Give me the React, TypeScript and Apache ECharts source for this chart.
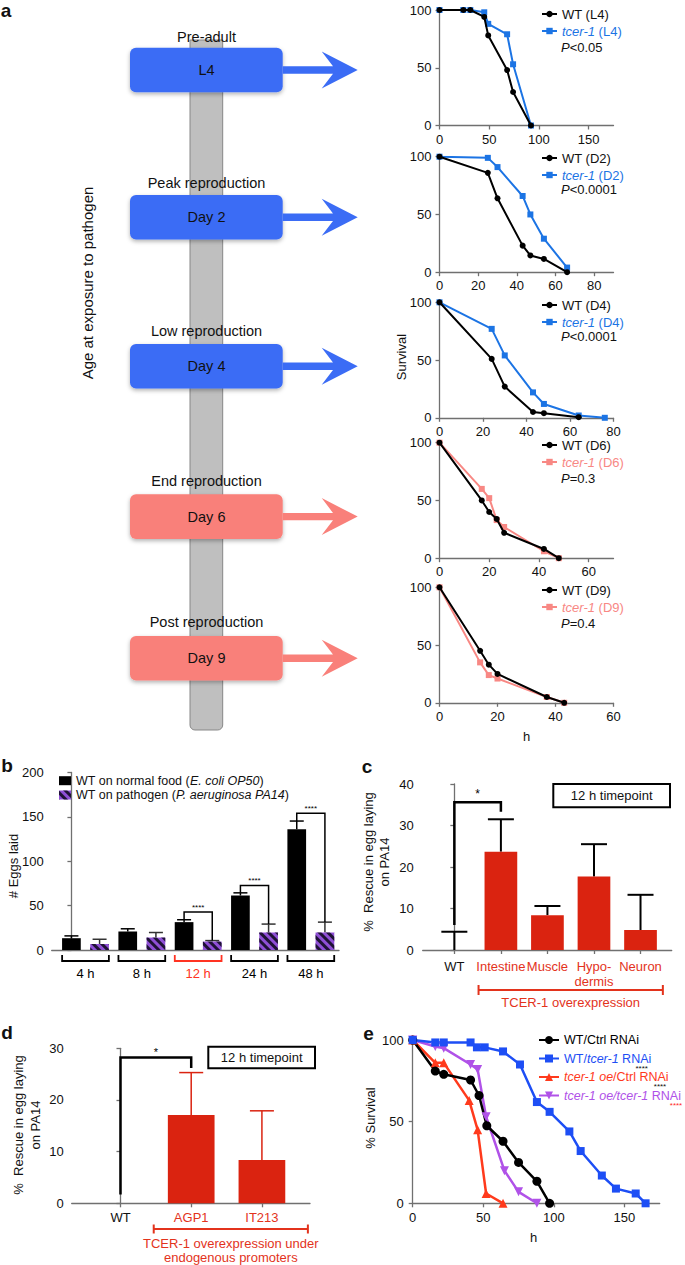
import React, { useEffect, useRef } from 'react';
import * as echarts from 'echarts';

const FONT = '"Liberation Sans", Arial, Helvetica, sans-serif';

// ---------- Panel a: survival curves (x = h, y = % survival)
const aKeys = ['L4', 'D2', 'D4', 'D6', 'D9'];
const aStages = ['Pre-adult', 'Peak reproduction', 'Low reproduction', 'End reproduction', 'Post reproduction'];
const aAges = ['L4', 'Day 2', 'Day 4', 'Day 6', 'Day 9'];
const aPvalues = ['<0.05', '<0.0001', '<0.0001', '=0.3', '=0.4'];
const aXMax = [175, 90, 80, 70, 60];
const aXTicks = [[0, 50, 100, 150], [0, 20, 40, 60, 80], [0, 20, 40, 60, 80], [0, 20, 40, 60], [0, 20, 40, 60]];
const aYTicks = [0, 50, 100];
const wtL4 = [[0, 100], [24, 100], [31, 100], [45, 94], [49, 78], [68, 48], [74, 29], [92, 0]];
const tcL4 = [[0, 100], [24, 100], [31, 100], [45, 98], [49, 88], [68, 79], [74, 53], [92, 0]];
const wtD2 = [[0, 100], [25, 86], [30, 64], [43, 23], [47, 14.5], [54, 11.5], [66, 0]];
const tcD2 = [[0, 100], [25, 99], [30, 91], [43, 66], [47, 50], [54, 29], [66, 4]];
const wtD4 = [[0, 100], [24, 51], [30, 27], [43, 5], [48, 4], [64, 0.5]];
const tcD4 = [[0, 100], [24, 77], [30, 54], [43, 22], [48, 12], [64, 2], [76, 0]];
const wtD6 = [[0, 100], [17, 50], [20, 40], [23, 34], [26, 22], [42, 8], [48, 0]];
const tcD6 = [[0, 100], [17, 60], [20, 52], [23, 33], [26, 27], [42, 6], [48, 0]];
const wtD9 = [[0, 100], [14, 45], [17, 33], [20, 25], [37, 5], [43, 0]];
const tcD9 = [[0, 100], [14, 35], [17, 24], [20, 21], [37, 5], [43, 0]];
const aWT = [wtL4, wtD2, wtD4, wtD6, wtD9];
const aTC = [tcL4, tcD2, tcD4, tcD6, tcD9];

// ---------- Panel b: eggs laid
const bGroups = ['4 h', '8 h', '12 h', '24 h', '48 h'];
const bFood = [13.3, 20.8, 31.4, 61.4, 136];
const bFoodErr = [15.9, 23.9, 34.1, 64.4, 145.3];
const bPath = [6.8, 14, 9.5, 19.7, 19.7];
const bPathErr = [12.1, 19.7, 10.6, 29.2, 31.4];
const bSigGroups = [2, 3, 4];
const bSigTop = [42.8, 72.7, 154];
const bSigStars = ['****', '****', '****'];
const bYTicks = [0, 50, 100, 150, 200];

// ---------- Panel c
const cCats = ['WT', 'Intestine', 'Muscle', 'Hypo-\ndermis', 'Neuron'];
const cVals = [0, 23.7, 8.4, 17.7, 4.8];
const cErr = [4.4, 31.5, 10.6, 25.5, 13.3];
const cSig = [[0, 1, 6, 35.6, 33.3]];
const cStars = ['*'];
const cYTicks = [0, 10, 20, 30, 40];

// ---------- Panel d
const dCats = ['WT', 'AGP1', 'IT213'];
const dVals = [0, 17.1, 8.4];
const dErr = [[1, 17.1, 25.3], [2, 8.4, 17.9]];
const dSig = [[0, 1, 1.7, 28.2, 26.2]];
const dStars = ['*'];
const dYTicks = [0, 10, 20, 30];

// ---------- Panel e
const eNames = ['WT/Ctrl RNAi', 'WT/tcer-1 RNAi', 'tcer-1 oe/Ctrl RNAi', 'tcer-1 oe/tcer-1 RNAi'];
const eWTCtrl = [[0, 100], [16, 81], [22, 79], [41, 75.5], [47, 66], [52.5, 47.5], [64, 38], [75, 25], [88, 13.5], [97, 0]];
const eWTTcer = [[0, 100], [16, 98.5], [22, 98.5], [41, 98.5], [45.5, 95.5], [51, 95.5], [64, 93], [76, 85], [88, 62], [97, 56], [111, 44], [119, 32], [134, 17], [144, 9], [158, 6], [165, 0]];
const eOeCtrl = [[0, 100], [16, 86], [22, 86], [40, 63], [46, 45], [52, 6], [64, 0]];
const eOeTcer = [[0, 100], [16, 96], [22, 95], [41, 85], [46, 82], [52, 53], [65, 20], [75, 7], [88, 0]];
const eStars = ['****', '****', '****'];
const eXTicks = [0, 50, 100, 150];
const eYTicks = [0, 50, 100];

// ---------- styles
const AX = '#707070';
const BLUE_A = '#1c74e4';
const PINK_A = '#f88884';
const BAR_RED = '#da2310';
const TXT_RED = '#e3331c';
const PURPLE_B = '#8f4fd6';
const E_COL = ['#000000', '#1d4ef5', '#ff3a1c', '#b052e8'];

function valAxis(gridIndex: number, min: number, max: number, ticks: number[] | null, margin: number, extra: any = {}) {
  return {
    type: 'value', gridIndex, min, max,
    axisLine: { show: true, lineStyle: { color: AX, width: 1.3 } },
    axisTick: ticks ? { show: true, length: 4, customValues: ticks, lineStyle: { color: AX, width: 1.3 } } : { show: false },
    axisLabel: ticks ? { show: true, customValues: ticks, fontSize: 13, color: '#111', fontFamily: FONT, margin } : { show: false },
    splitLine: { show: false },
    ...extra,
  };
}

function T(text: string, x: number, y: number, o: any = {}) {
  return {
    type: 'text', x, y, rotation: o.rot || 0, z: 10,
    style: {
      text, fill: o.color || '#111', fontSize: o.size || 13, fontFamily: FONT,
      fontWeight: o.weight || 'normal', fontStyle: o.style || 'normal',
      align: o.align || 'center', textAlign: o.align || 'center',
      verticalAlign: 'middle', textVerticalAlign: 'middle',
      lineHeight: o.lh, rich: o.rich,
    },
  };
}

function errSeries(xi: number, data: number[][], capW: number, color: string, lw = 1.5) {
  return {
    type: 'custom', xAxisIndex: xi, yAxisIndex: xi, data, z: 1, silent: true,
    encode: { x: 0, y: [1, 2] },
    renderItem: (params: any, api: any) => {
      const x = api.value(0), v = api.value(1), t = api.value(2);
      const p0 = api.coord([x, v]);
      const p1 = api.coord([x, t]);
      return {
        type: 'group', children: [
          { type: 'line', shape: { x1: p0[0], y1: p0[1], x2: p1[0], y2: p1[1] }, style: { stroke: color, lineWidth: lw } },
          { type: 'line', shape: { x1: p1[0] - capW / 2, y1: p1[1], x2: p1[0] + capW / 2, y2: p1[1] }, style: { stroke: color, lineWidth: lw } },
        ],
      };
    },
  };
}

function sigSeries(xi: number, data: number[][], stars: string[], lw: number, starSize: number, starGap: number) {
  return {
    type: 'custom', xAxisIndex: xi, yAxisIndex: xi, data, z: 3, silent: true, clip: false,
    encode: { x: [0, 1], y: [2, 3, 4] },
    renderItem: (params: any, api: any) => {
      const x1 = api.value(0), x2 = api.value(1);
      const a = api.coord([x1, api.value(2)]);
      const b = api.coord([x1, api.value(3)]);
      const c = api.coord([x2, api.value(3)]);
      const d = api.coord([x2, api.value(4)]);
      return {
        type: 'group', children: [
          { type: 'polyline', shape: { points: [a, b, c, d] }, style: { stroke: '#000', lineWidth: lw, fill: null } },
          {
            type: 'text', x: (b[0] + c[0]) / 2, y: b[1] - starGap,
            style: { text: stars[params.dataIndex], fill: '#000', fontSize: starSize, fontFamily: FONT, align: 'center', textAlign: 'center', verticalAlign: 'middle', textVerticalAlign: 'middle' },
          },
        ],
      };
    },
  };
}

function buildOption() {
  const grids: any[] = [];
  const xAxes: any[] = [];
  const yAxes: any[] = [];
  const series: any[] = [];
  const legends: any[] = [];
  const graphics: any[] = [];

  // ---- Panel a survival plots
  const aGridTop = [10, 156.7, 302.3, 442.7, 587.3];
  const aLegTop = [6, 150, 297, 437, 582];
  const aPY = [47, 189, 336, 478, 623];
  for (let i = 0; i < 5; i++) {
    const k = aKeys[i];
    const col = i < 3 ? BLUE_A : PINK_A;
    grids.push({ left: 439.5, top: aGridTop[i], width: 174, height: 115.5, outerBoundsMode: 'none' });
    xAxes.push(valAxis(i, 0, aXMax[i], aXTicks[i], 7));
    yAxes.push(valAxis(i, 0, 100, aYTicks, 8));
    series.push({
      type: 'line', name: `tcer-1 (${k})`, xAxisIndex: i, yAxisIndex: i, data: aTC[i],
      symbol: 'rect', symbolSize: 6, lineStyle: { width: 2, color: col }, itemStyle: { color: col }, z: 2,
    });
    series.push({
      type: 'line', name: `WT (${k})`, xAxisIndex: i, yAxisIndex: i, data: aWT[i],
      symbol: 'circle', symbolSize: 6, lineStyle: { width: 2, color: '#000' }, itemStyle: { color: '#000' }, z: 3,
    });
    legends.push({
      orient: 'vertical', left: 541, top: aLegTop[i], padding: 0, itemWidth: 15, itemHeight: 8, itemGap: 1,
      selectedMode: false,
      data: [{ name: `WT (${k})` }, { name: `tcer-1 (${k})` }],
      formatter: (name: string) => name.startsWith('tcer') ? `{ci|tcer-1}{cn|${name.slice(6)}}` : `{k|${name}}`,
      textStyle: {
        fontSize: 13, fontFamily: FONT, color: '#111', lineHeight: 16,
        rich: {
          k: { color: '#111', fontSize: 13, fontFamily: FONT, lineHeight: 16 },
          ci: { color: col, fontStyle: 'italic', fontSize: 13, fontFamily: FONT, lineHeight: 16 },
          cn: { color: col, fontSize: 13, fontFamily: FONT, lineHeight: 16 },
        },
      },
    });
    graphics.push(T(`{i|P}{n|${aPvalues[i]}}`, 561, aPY[i], {
      align: 'left',
      rich: {
        i: { fontStyle: 'italic', fontSize: 13, fontFamily: FONT, fill: '#111', color: '#111' },
        n: { fontSize: 13, fontFamily: FONT, fill: '#111', color: '#111' },
      },
    }));
  }
  graphics.push(T('Survival', 401, 357, { rot: Math.PI / 2 }));
  graphics.push(T('h', 526.5, 736));

  // ---- Panel a diagram
  graphics.push({
    type: 'rect', shape: { x: 190, y: 40, width: 32.7, height: 690, r: [0, 0, 5, 5] },
    style: { fill: '#bfbfbf', stroke: '#878787', lineWidth: 1 }, z: 1,
  });
  const boxTop = [47.7, 195, 344, 494.3, 636];
  const labelY = [36.7, 183.3, 331, 480.7, 622.3];
  for (let i = 0; i < 5; i++) {
    const col = i < 3 ? '#3b6cf5' : '#f9807a';
    const cy = boxTop[i] + 22.3;
    graphics.push(T(aStages[i], 206.5, labelY[i], { size: 14.5 }));
    graphics.push({
      type: 'rect', shape: { x: 130, y: boxTop[i], width: 152.7, height: 44.6, r: 6 }, z: 5,
      style: { fill: col, shadowBlur: 4, shadowOffsetY: 2, shadowColor: 'rgba(0,0,0,0.3)' },
    });
    graphics.push(T(aAges[i], 206.5, cy, { size: 14.5 }));
    graphics.push({
      type: 'polygon', z: 5,
      shape: {
        points: [[282.7, cy - 3.7], [333, cy - 3.7], [321.7, cy - 18.5], [357.7, cy], [321.7, cy + 18.5], [333, cy + 3.7], [282.7, cy + 3.7]],
      },
      style: { fill: col },
    });
  }
  graphics.push(T('Age at exposure to pathogen', 87, 283, { rot: Math.PI / 2, size: 15 }));

  // ---- Panel b
  const gb = 5;
  grids.push({ left: 51.7, top: 772.5, width: 287.3, height: 177.5, outerBoundsMode: 'none' });
  xAxes.push(valAxis(gb, -0.7, 9.5, null, 0));
  yAxes.push(valAxis(gb, 0, 200, bYTicks, 8));
  const foodName = 'WT on normal food (E. coli OP50)';
  const pathName = 'WT on pathogen (P. aeruginosa PA14)';
  series.push({
    type: 'bar', name: foodName, xAxisIndex: gb, yAxisIndex: gb, barWidth: 18.7, barGap: '-100%',
    data: bFood.map((v, g) => [2 * g, v]), itemStyle: { color: '#000' }, z: 2,
  });
  series.push({
    type: 'bar', name: pathName, xAxisIndex: gb, yAxisIndex: gb, barWidth: 18.7, barGap: '-100%',
    data: bPath.map((v, g) => [2 * g + 1, v]),
    itemStyle: {
      color: PURPLE_B,
      decal: { symbol: 'rect', symbolSize: 1, color: 'rgba(25,15,45,0.95)', dashArrayX: [1, 0], dashArrayY: [3, 3], rotation: Math.PI / 4 },
    },
    z: 2,
  });
  series.push(errSeries(gb, bFood.map((v, g) => [2 * g, v, bFoodErr[g]]), 14, '#000'));
  series.push(errSeries(gb, bPath.map((v, g) => [2 * g + 1, v, bPathErr[g]]), 14, '#333'));
  series.push(sigSeries(gb, bSigGroups.map((g, j) => [2 * g, 2 * g + 1, bFoodErr[g], bSigTop[j], bPathErr[g]]), bSigStars, 1.5, 8, 5));
  series.push({
    type: 'custom', xAxisIndex: gb, yAxisIndex: gb, data: bGroups.map((_, g) => [2 * g, 0]), clip: false, silent: true,
    encode: { x: 0, y: 1 },
    renderItem: (params: any, api: any) => {
      const s = api.value(0);
      const L = api.coord([s - 0.33, 0]);
      const R = api.coord([s + 1.33, 0]);
      const col = bGroups[params.dataIndex] === '12 h' ? '#ff3322' : '#000';
      const y0 = L[1] + 5, y1 = L[1] + 11;
      return {
        type: 'group', children: [
          { type: 'polyline', shape: { points: [[L[0], y0], [L[0], y1], [R[0], y1], [R[0], y0]] }, style: { stroke: col, lineWidth: 1.8, fill: null } },
          { type: 'text', x: (L[0] + R[0]) / 2, y: L[1] + 23, style: { text: bGroups[params.dataIndex], fill: col, fontSize: 13, fontFamily: FONT, align: 'center', textAlign: 'center', verticalAlign: 'middle', textVerticalAlign: 'middle' } },
        ],
      };
    },
  });
  legends.push({
    orient: 'vertical', left: 59, top: 773.7, padding: 0, itemWidth: 12, itemHeight: 9, itemGap: 0.3, icon: 'rect',
    selectedMode: false,
    data: [foodName, pathName],
    formatter: (name: string) => name === foodName ? '{n|WT on normal food (}{i|E. coli OP50}{n|)}' : '{n|WT on pathogen (}{i|P. aeruginosa PA14}{n|)}',
    textStyle: {
      fontSize: 12.5, fontFamily: FONT, color: '#111', lineHeight: 14,
      rich: {
        n: { fontSize: 12.5, fontFamily: FONT, color: '#111', lineHeight: 14 },
        i: { fontSize: 12.5, fontFamily: FONT, color: '#111', fontStyle: 'italic', lineHeight: 14 },
      },
    },
  });
  graphics.push(T('# Eggs laid', 13, 866, { rot: Math.PI / 2 }));

  // ---- Panel c
  const gc = 6;
  grids.push({ left: 422.7, top: 784, width: 249, height: 166, outerBoundsMode: 'none' });
  xAxes.push(valAxis(gc, -0.68, 4.67, [0, 1, 2, 3, 4], 9, {
    axisLabel: {
      show: true, customValues: [0, 1, 2, 3, 4], margin: 9, fontSize: 13, fontFamily: FONT, lineHeight: 15,
      formatter: (v: number) => v === 0 ? `{k|${cCats[0]}}` : cCats[v].split('\n').map((s) => `{r|${s}}`).join('\n'),
      rich: {
        k: { color: '#111', fontSize: 13, fontFamily: FONT, lineHeight: 15 },
        r: { color: TXT_RED, fontSize: 13, fontFamily: FONT, lineHeight: 15 },
      },
    },
  }));
  yAxes.push(valAxis(gc, 0, 40, cYTicks, 9));
  series.push({
    type: 'bar', name: 'c-bars', xAxisIndex: gc, yAxisIndex: gc, barWidth: 32.7,
    data: cVals.map((v, i) => [i, v]), itemStyle: { color: BAR_RED }, z: 2,
  });
  series.push(errSeries(gc, cVals.map((v, i) => [i, v, cErr[i]]), 26, '#000', 2));
  series.push(sigSeries(gc, cSig, cStars, 2.5, 12, 8));
  series.push({
    type: 'custom', xAxisIndex: gc, yAxisIndex: gc, data: [[1, 4]], clip: false, silent: true,
    encode: { x: [0, 1] },
    renderItem: (params: any, api: any) => {
      const L = api.coord([api.value(0) - 0.48, 0]);
      const R = api.coord([api.value(1) + 0.48, 0]);
      const y = L[1] + 40;
      return {
        type: 'group', children: [
          { type: 'line', shape: { x1: L[0], y1: y, x2: R[0], y2: y }, style: { stroke: TXT_RED, lineWidth: 2 } },
          { type: 'line', shape: { x1: L[0], y1: y - 5, x2: L[0], y2: y + 5 }, style: { stroke: TXT_RED, lineWidth: 2 } },
          { type: 'line', shape: { x1: R[0], y1: y - 5, x2: R[0], y2: y + 5 }, style: { stroke: TXT_RED, lineWidth: 2 } },
          { type: 'text', x: (L[0] + R[0]) / 2, y: L[1] + 52, style: { text: 'TCER-1 overexpression', fill: TXT_RED, fontSize: 13, fontFamily: FONT, align: 'center', textAlign: 'center', verticalAlign: 'middle', textVerticalAlign: 'middle' } },
        ],
      };
    },
  });
  graphics.push({ type: 'rect', shape: { x: 553.3, y: 784, width: 116.7, height: 23.3 }, style: { fill: '#fff', stroke: '#000', lineWidth: 2 }, z: 5 });
  graphics.push(T('12 h timepoint', 611.7, 795.7));
  graphics.push(T('%  Rescue in egg laying\non PA14', 376, 862, { rot: Math.PI / 2, lh: 16 }));

  // ---- Panel d
  const gd = 7;
  grids.push({ left: 71.7, top: 1048.3, width: 238.3, height: 155, outerBoundsMode: 'none' });
  xAxes.push(valAxis(gd, -0.69, 2.68, [0, 1, 2], 8, {
    axisLabel: {
      show: true, customValues: [0, 1, 2], margin: 8, fontSize: 13, fontFamily: FONT,
      formatter: (v: number) => v === 0 ? `{k|${dCats[0]}}` : `{r|${dCats[v]}}`,
      rich: {
        k: { color: '#111', fontSize: 13, fontFamily: FONT },
        r: { color: TXT_RED, fontSize: 13, fontFamily: FONT },
      },
    },
  }));
  yAxes.push(valAxis(gd, 0, 30, dYTicks, 8));
  series.push({
    type: 'bar', name: 'd-bars', xAxisIndex: gd, yAxisIndex: gd, barWidth: 46.7,
    data: dVals.map((v, i) => [i, v]), itemStyle: { color: BAR_RED }, z: 2,
  });
  series.push(errSeries(gd, dErr, 24, BAR_RED, 1.5));
  series.push(sigSeries(gd, dSig, dStars, 2.5, 11, 6));
  series.push({
    type: 'custom', xAxisIndex: gd, yAxisIndex: gd, data: [[0.47, 2.65]], clip: false, silent: true,
    encode: { x: [0, 1] },
    renderItem: (params: any, api: any) => {
      const L = api.coord([api.value(0), 0]);
      const R = api.coord([api.value(1), 0]);
      const y = L[1] + 25.7;
      return {
        type: 'group', children: [
          { type: 'line', shape: { x1: L[0], y1: y, x2: R[0], y2: y }, style: { stroke: TXT_RED, lineWidth: 2 } },
          { type: 'line', shape: { x1: L[0], y1: y - 4.5, x2: L[0], y2: y + 4.5 }, style: { stroke: TXT_RED, lineWidth: 2 } },
          { type: 'line', shape: { x1: R[0], y1: y - 4.5, x2: R[0], y2: y + 4.5 }, style: { stroke: TXT_RED, lineWidth: 2 } },
          { type: 'text', x: (L[0] + R[0]) / 2, y: L[1] + 47, style: { text: 'TCER-1 overexpression under\nendogenous promoters', lineHeight: 14, fill: TXT_RED, fontSize: 13, fontFamily: FONT, align: 'center', textAlign: 'center', verticalAlign: 'middle', textVerticalAlign: 'middle' } },
        ],
      };
    },
  });
  graphics.push({ type: 'rect', shape: { x: 208.3, y: 1046.7, width: 106.7, height: 21.6 }, style: { fill: '#fff', stroke: '#000', lineWidth: 2 }, z: 5 });
  graphics.push(T('12 h timepoint', 261.7, 1057.5));
  graphics.push(T('%  Rescue in egg laying\non PA14', 26.5, 1125, { rot: Math.PI / 2, lh: 17 }));

  // ---- Panel e
  const ge = 8;
  grids.push({ left: 412.7, top: 1040, width: 247, height: 163.3, outerBoundsMode: 'none' });
  xAxes.push(valAxis(ge, 0, 175, eXTicks, 8));
  yAxes.push(valAxis(ge, 0, 100, eYTicks, 9));
  const eData = [eWTCtrl, eWTTcer, eOeCtrl, eOeTcer];
  const eSym = ['circle', 'rect', 'triangle', 'triangle'];
  const eSize = [9, 8, 9, 9];
  const eRot = [0, 0, 0, 180];
  const eOrder = [2, 3, 0, 1];
  eOrder.forEach((i) => {
    series.push({
      type: 'line', name: eNames[i], xAxisIndex: ge, yAxisIndex: ge, data: eData[i],
      symbol: eSym[i], symbolSize: eSize[i], symbolRotate: eRot[i],
      lineStyle: { width: 2.5, color: E_COL[i] }, itemStyle: { color: E_COL[i] }, z: 3,
    });
  });
  legends.push({
    orient: 'vertical', left: 538, top: 1033.5, padding: 0, itemWidth: 20, itemHeight: 10, itemGap: 5.5,
    selectedMode: false,
    data: eNames,
    formatter: (name: string) => {
      if (name === eNames[0]) return '{k|WT/Ctrl RNAi}';
      if (name === eNames[1]) return '{bn|WT/}{bi|tcer-1}{bn| RNAi}';
      if (name === eNames[2]) return '{ri|tcer-1 oe}{rn|/Ctrl RNAi}';
      return '{pi|tcer-1 oe/tcer-1}{pn| RNAi}';
    },
    textStyle: {
      fontSize: 12.5, fontFamily: FONT, color: '#111', lineHeight: 13,
      rich: {
        k: { color: '#000', fontSize: 12.5, fontFamily: FONT, lineHeight: 13 },
        bn: { color: E_COL[1], fontSize: 12.5, fontFamily: FONT, lineHeight: 13 },
        bi: { color: E_COL[1], fontSize: 12.5, fontFamily: FONT, fontStyle: 'italic', lineHeight: 13 },
        rn: { color: E_COL[2], fontSize: 12.5, fontFamily: FONT, lineHeight: 13 },
        ri: { color: E_COL[2], fontSize: 12.5, fontFamily: FONT, fontStyle: 'italic', lineHeight: 13 },
        pn: { color: E_COL[3], fontSize: 12.5, fontFamily: FONT, lineHeight: 13 },
        pi: { color: E_COL[3], fontSize: 12.5, fontFamily: FONT, fontStyle: 'italic', lineHeight: 13 },
      },
    },
  });
  graphics.push(T(eStars[0], 641.7, 1068, { size: 8, lh: 5 }));
  graphics.push(T(eStars[1], 660, 1086.5, { size: 8, lh: 5 }));
  graphics.push(T(eStars[2], 676, 1105.5, { size: 8, lh: 5, color: '#ff2a2a' }));
  graphics.push(T('% Survival', 370, 1118, { rot: Math.PI / 2 }));
  graphics.push(T('h', 533.6, 1237));

  // ---- panel letters
  graphics.push(T('a', 6, 10, { size: 19, weight: 'bold' }));
  graphics.push(T('b', 7, 765, { size: 19, weight: 'bold' }));
  graphics.push(T('c', 367, 766, { size: 19, weight: 'bold' }));
  graphics.push(T('d', 7, 1032, { size: 19, weight: 'bold' }));
  graphics.push(T('e', 368.5, 1033, { size: 19, weight: 'bold' }));

  return {
    animation: false,
    backgroundColor: '#ffffff',
    textStyle: { fontFamily: FONT },
    grid: grids,
    xAxis: xAxes,
    yAxis: yAxes,
    legend: legends,
    series,
    graphic: { elements: graphics },
  };
}

export default function App() {
  const ref = useRef<HTMLDivElement>(null);
  useEffect(() => {
    const chart = echarts.init(ref.current as HTMLDivElement, null, { renderer: 'svg' });
    chart.setOption(buildOption() as any);
    return () => chart.dispose();
  }, []);
  return (
    <div
      ref={ref}
      style={{ position: 'absolute', left: 0, top: 0, width: 685, height: 1265, background: '#fff' }}
    />
  );
}
